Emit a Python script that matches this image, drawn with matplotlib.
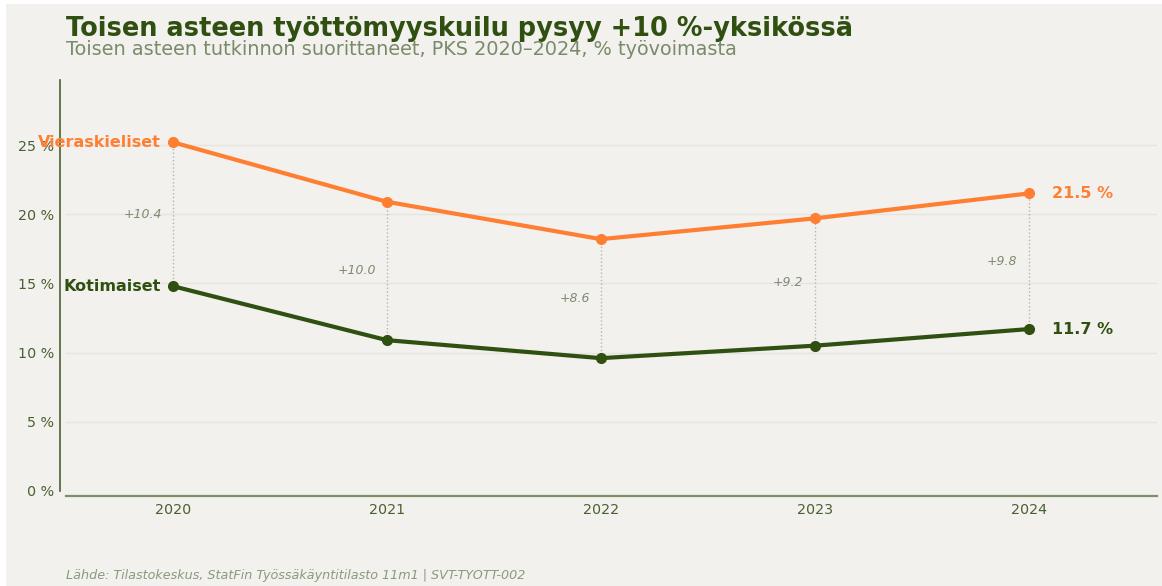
import matplotlib.pyplot as plt
from matplotlib.patches import Rectangle

years = [2020, 2021, 2022, 2023, 2024]
vieraskieliset = [25.2, 20.9, 18.2, 19.7, 21.5]
kotimaiset = [14.8, 10.9, 9.6, 10.5, 11.7]
yticks = [0, 5, 10, 15, 20, 25]

ORANGE = "#ff7f32"
GREEN = "#2f5010"
BG = "#f2f1ee"

fig = plt.figure(figsize=(11.62, 5.86), dpi=100, facecolor="white")
fig.patches.append(Rectangle((6 / 1162, 0), 1, 1 - 4 / 586, transform=fig.transFigure,
                             facecolor=BG, edgecolor="none", zorder=-10))
ax = fig.add_axes([66 / 1162, 1 - 491 / 586, (1157 - 66) / 1162, (491 - 80) / 586])
ax.set_facecolor(BG)

# connectors + gap labels
for x, v, k in zip(years, vieraskieliset, kotimaiset):
    ax.plot([x, x], [k, v], color="#b5b5b0", lw=1, ls=":", zorder=1)
    ax.annotate(f"+{v - k:.1f}", (x, (v + k) / 2), xytext=(-8, 0), textcoords="offset points",
                ha="right", va="center", fontsize=9, style="italic", color="#7d8a70")

ax.plot(years, vieraskieliset, color=ORANGE, lw=3, marker="o", ms=7, zorder=3)
ax.plot(years, kotimaiset, color=GREEN, lw=3, marker="o", ms=7, zorder=3)

ax.annotate("Vieraskieliset", (years[0], vieraskieliset[0]), xytext=(-9, 0), textcoords="offset points",
            ha="right", va="center", fontsize=11.5, fontweight="bold", color=ORANGE)
ax.annotate("Kotimaiset", (years[0], kotimaiset[0]), xytext=(-9, 0), textcoords="offset points",
            ha="right", va="center", fontsize=11.5, fontweight="bold", color=GREEN)
ax.annotate(f"{vieraskieliset[-1]:.1f} %", (years[-1], vieraskieliset[-1]), xytext=(17, 0),
            textcoords="offset points", ha="left", va="center", fontsize=11.5, fontweight="bold", color=ORANGE)
ax.annotate(f"{kotimaiset[-1]:.1f} %", (years[-1], kotimaiset[-1]), xytext=(17, 0),
            textcoords="offset points", ha="left", va="center", fontsize=11.5, fontweight="bold", color=GREEN)

ax.set_xlim(2019.5, 2024.6)
ax.set_ylim(0, 29.7)
ax.set_xticks(years)
ax.set_yticks(yticks)
ax.set_yticklabels([f"{t} %" for t in yticks])
ax.tick_params(length=0, labelsize=10.3, labelcolor="#4a6030")
ax.tick_params(axis="y", pad=4)
ax.tick_params(axis="x", pad=5)
ax.grid(axis="y", color="#e6e4df", lw=1)
ax.set_axisbelow(True)

for s in ["top", "right"]:
    ax.spines[s].set_visible(False)
ax.spines["left"].set_position(("outward", 4.5))
ax.spines["bottom"].set_position(("outward", 3.8))
ax.spines["left"].set_color("#4a6030")
ax.spines["left"].set_linewidth(1.2)
ax.spines["bottom"].set_color("#7d8f65")
ax.spines["bottom"].set_linewidth(1.6)

fig.text(66 / 1162, 1 - 36 / 586, "Toisen asteen työttömyyskuilu pysyy +10 %-yksikössä",
         fontsize=18.45, fontweight="bold", color=GREEN, va="baseline")
fig.text(66 / 1162, 1 - 55 / 586, "Toisen asteen tutkinnon suorittaneet, PKS 2020–2024, % työvoimasta",
         fontsize=13.9, color="#7a8a6a", va="baseline")
fig.text(66 / 1162, 1 - 575 / 586, "Lähde: Tilastokeskus, StatFin Työssäkäyntitilasto 11m1 | SVT-TYOTT-002",
         fontsize=9.2, style="italic", color="#8a9a7c", va="center")

fig.savefig("out.png", dpi=100, facecolor=fig.get_facecolor())
